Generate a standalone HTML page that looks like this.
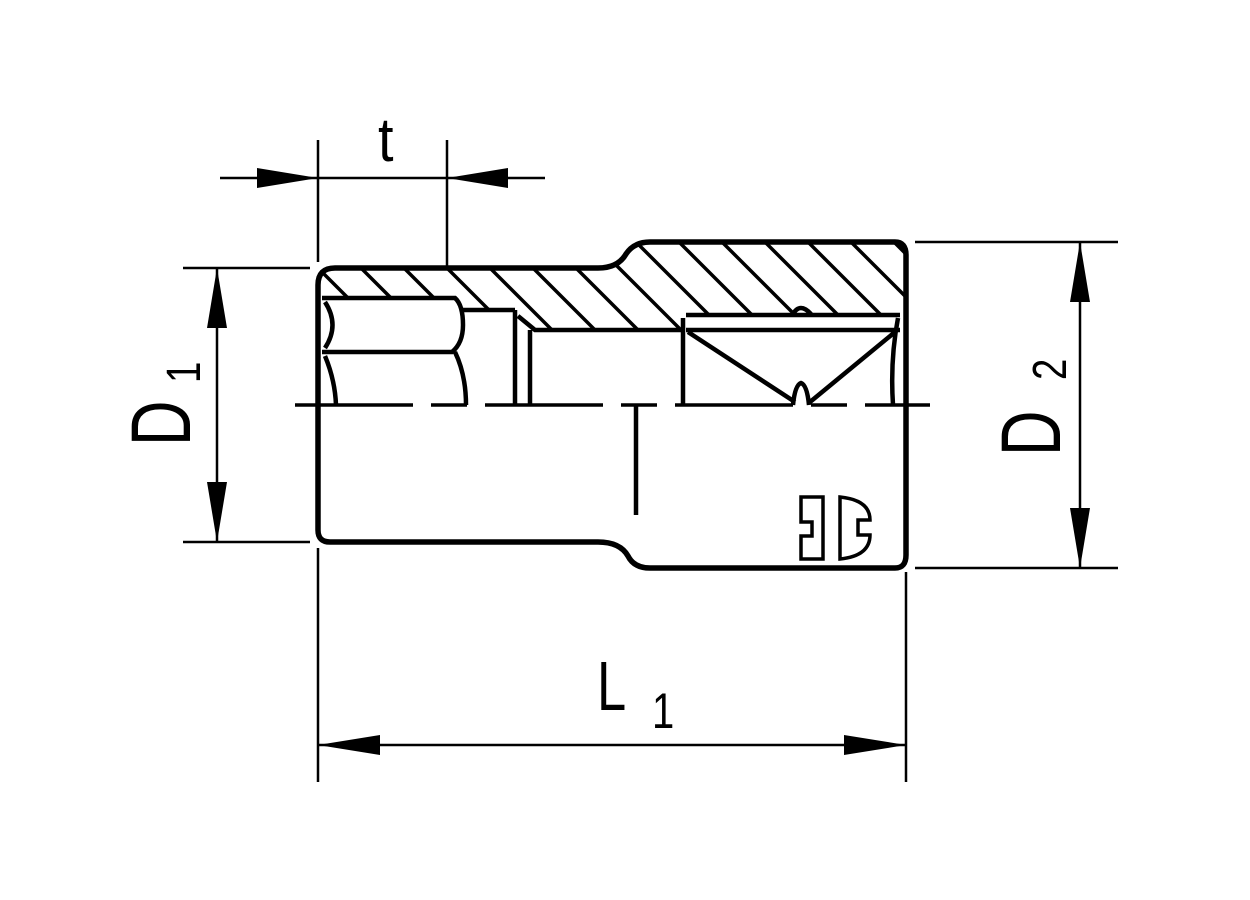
<!DOCTYPE html>
<html><head><style>html,body{margin:0;padding:0;background:#fff}svg{display:block}</style></head><body>
<svg width="1250" height="900" viewBox="0 0 1250 900" xmlns="http://www.w3.org/2000/svg">
<defs>
<clipPath id="h"><path d="M322,298 L318,285 Q318,268 335,268 L600,268 Q620,268 628,252 Q634,242 650,242 L900,242 L904,252 L904,315 L686,315 L683,330 L535,330 L515,310 L463,310 L455,298 Z"/></clipPath>
</defs>
<g stroke="#000" fill="none" stroke-linecap="butt">
<g clip-path="url(#h)" stroke-width="3.5">
<path d="M280,230 l110,110 M323,230 l110,110 M366,230 l110,110 M409,230 l110,110 M452,230 l110,110 M495,230 l110,110 M538,230 l110,110 M581,230 l110,110 M624,230 l110,110 M667,230 l110,110 M710,230 l110,110 M753,230 l110,110 M796,230 l110,110 M839,230 l110,110 M882,230 l110,110"/>
</g>
<path stroke-width="5.5" d="M318,530 L318,285 Q318,268 335,268 L598,268 Q618,268 626,254 Q634,242 650,242 L895,242 Q906,242 906,255 L906,555 Q906,568 895,568 L650,568 Q634,568 628,556 Q620,542 598,542 L330,542 Q318,542 318,530 Z"/>
<path stroke-width="4.5" d="M322,298 L455,298 Q463,305 463,325 Q463,343 452,352 L322,352 M455,352 Q466,375 466,405 M325,302 Q340,325 325,348 M325,356 Q335,380 336,405 M463,310 L515,310"/>
<path stroke-width="4.5" d="M515,310 L515,405 M530,330 L530,405 M518,316 L535,330 L683,330 M683,318 L683,405 M686,315 L900,315 M686,330 L900,330 M688,332 L795,402 M895,332 L810,402 M793,405 Q795,385 801,383 Q807,385 809,405 M793,314 Q800,302 811,314 M898,318 Q890,360 893,405 M636,405 L636,515"/>
<path stroke-width="3.5" stroke-dasharray="118,18,36,18" d="M295,405 L930,405"/>
<path stroke-width="3.5" d="M801,497 L823,497 L823,559 L801,559 L801,536 L812,536 L812,522 L801,522 Z M840,497 Q870,500 870,520 L858,520 L858,535 L870,535 Q870,556 840,559 Z"/>
<g stroke-width="2.5">
<path d="M318,140 L318,262 M447,140 L447,268 M220,178 L545,178"/>
<path d="M183,268 L310,268 M183,542 L310,542 M217,268 L217,542"/>
<path d="M915,242 L1118,242 M915,568 L1118,568 M1080,242 L1080,568"/>
<path d="M318,548 L318,782 M906,572 L906,782 M318,745 L906,745"/>
</g>
</g>
<g fill="#000">
<path d="M318,178 L257,168 L257,188 Z M447,178 L508,168 L508,188 Z"/>
<path d="M217,268 L207,328 L227,328 Z M217,542 L207,482 L227,482 Z"/>
<path d="M1080,242 L1070,302 L1090,302 Z M1080,568 L1070,508 L1090,508 Z"/>
<path d="M318,745 L380,735 L380,755 Z M906,745 L844,735 L844,755 Z"/>
</g>
<g font-family="Liberation Sans, sans-serif" fill="#000">
<text transform="translate(378,161) scale(0.9,1)" font-size="62">t</text>
<text transform="translate(597,710) scale(0.75,1)" font-size="70">L</text>
<text transform="translate(652,728) scale(0.8,1)" font-size="50">1</text>
<text transform="translate(190,446) rotate(-90) scale(0.75,1)" font-size="84">D</text>
<text transform="translate(200,383) rotate(-90) scale(0.8,1)" font-size="48">1</text>
<text transform="translate(1060,456) rotate(-90) scale(0.75,1)" font-size="84">D</text>
<text transform="translate(1066,380) rotate(-90) scale(0.8,1)" font-size="48">2</text>
</g>
</svg>
</body></html>
